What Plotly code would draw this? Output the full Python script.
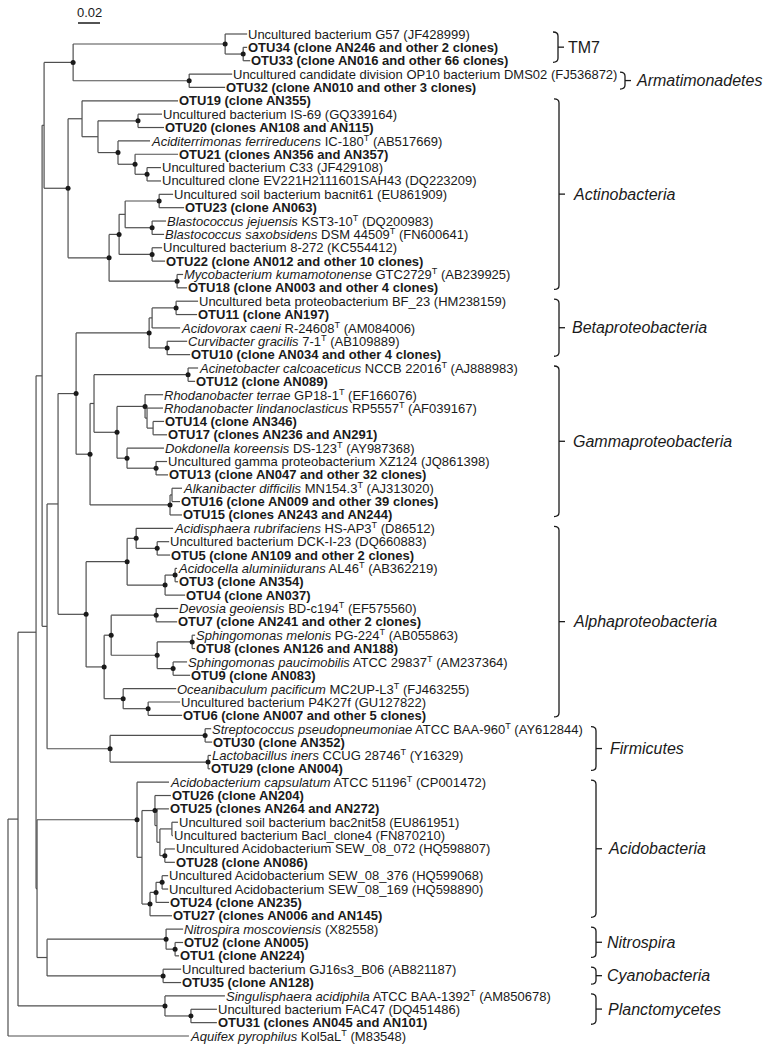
import plotly.graph_objects as go

# ---------------- DATA ----------------
leaf_labels = [
    "Uncultured bacterium G57 (JF428999)",
    "<b>OTU34 (clone AN246 and other 2 clones)</b>",
    "<b>OTU33 (clone AN016 and other 66 clones)</b>",
    "Uncultured candidate division OP10 bacterium DMS02 (FJ536872)",
    "<b>OTU32 (clone AN010 and other 3 clones)</b>",
    "<b>OTU19 (clone AN355)</b>",
    "Uncultured bacterium IS-69 (GQ339164)",
    "<b>OTU20 (clones AN108 and AN115)</b>",
    "<i>Aciditerrimonas ferrireducens</i> IC-180<sup>T</sup> (AB517669)",
    "<b>OTU21 (clones AN356 and AN357)</b>",
    "Uncultured bacterium C33 (JF429108)",
    "Uncultured clone EV221H2111601SAH43 (DQ223209)",
    "Uncultured soil bacterium bacnit61 (EU861909)",
    "<b>OTU23 (clone AN063)</b>",
    "<i>Blastococcus jejuensis</i> KST3-10<sup>T</sup> (DQ200983)",
    "<i>Blastococcus saxobsidens</i> DSM 44509<sup>T</sup> (FN600641)",
    "Uncultured bacterium 8-272 (KC554412)",
    "<b>OTU22 (clone AN012 and other 10 clones)</b>",
    "<i>Mycobacterium kumamotonense</i> GTC2729<sup>T</sup> (AB239925)",
    "<b>OTU18 (clone AN003 and other 4 clones)</b>",
    "Uncultured beta proteobacterium BF_23 (HM238159)",
    "<b>OTU11 (clone AN197)</b>",
    "<i>Acidovorax caeni</i> R-24608<sup>T</sup> (AM084006)",
    "<i>Curvibacter gracilis</i> 7-1<sup>T</sup> (AB109889)",
    "<b>OTU10 (clone AN034 and other 4 clones)</b>",
    "<i>Acinetobacter calcoaceticus</i> NCCB 22016<sup>T</sup> (AJ888983)",
    "<b>OTU12 (clone AN089)</b>",
    "<i>Rhodanobacter terrae</i> GP18-1<sup>T</sup> (EF166076)",
    "<i>Rhodanobacter lindanoclasticus</i> RP5557<sup>T</sup> (AF039167)",
    "<b>OTU14 (clone AN346)</b>",
    "<b>OTU17 (clones AN236 and AN291)</b>",
    "<i>Dokdonella koreensis</i> DS-123<sup>T</sup> (AY987368)",
    "Uncultured gamma proteobacterium XZ124 (JQ861398)",
    "<b>OTU13 (clone AN047 and other 32 clones)</b>",
    "<i>Alkanibacter difficilis</i> MN154.3<sup>T</sup> (AJ313020)",
    "<b>OTU16 (clone AN009 and other 39 clones)</b>",
    "<b>OTU15 (clones AN243 and AN244)</b>",
    "<i>Acidisphaera rubrifaciens</i> HS-AP3<sup>T</sup> (D86512)",
    "Uncultured bacterium DCK-I-23 (DQ660883)",
    "<b>OTU5 (clone AN109 and other 2 clones)</b>",
    "<i>Acidocella aluminiidurans</i> AL46<sup>T</sup> (AB362219)",
    "<b>OTU3 (clone AN354)</b>",
    "<b>OTU4 (clone AN037)</b>",
    "<i>Devosia geoiensis</i> BD-c194<sup>T</sup> (EF575560)",
    "<b>OTU7 (clone AN241 and other 2 clones)</b>",
    "<i>Sphingomonas melonis</i> PG-224<sup>T</sup> (AB055863)",
    "<b>OTU8 (clones AN126 and AN188)</b>",
    "<i>Sphingomonas paucimobilis</i> ATCC 29837<sup>T</sup> (AM237364)",
    "<b>OTU9 (clone AN083)</b>",
    "<i>Oceanibaculum pacificum</i> MC2UP-L3<sup>T</sup> (FJ463255)",
    "Uncultured bacterium P4K27f (GU127822)",
    "<b>OTU6 (clone AN007 and other 5 clones)</b>",
    "<i>Streptococcus pseudopneumoniae</i> ATCC BAA-960<sup>T</sup> (AY612844)",
    "<b>OTU30 (clone AN352)</b>",
    "<i>Lactobacillus iners</i> CCUG 28746<sup>T</sup> (Y16329)",
    "<b>OTU29 (clone AN004)</b>",
    "<i>Acidobacterium capsulatum</i> ATCC 51196<sup>T</sup> (CP001472)",
    "<b>OTU26 (clone AN204)</b>",
    "<b>OTU25 (clones AN264 and AN272)</b>",
    "Uncultured soil bacterium bac2nit58 (EU861951)",
    "Uncultured bacterium Bacl_clone4 (FN870210)",
    "Uncultured Acidobacterium SEW_08_072 (HQ598807)",
    "<b>OTU28 (clone AN086)</b>",
    "Uncultured Acidobacterium SEW_08_376 (HQ599068)",
    "Uncultured Acidobacterium SEW_08_169 (HQ598890)",
    "<b>OTU24 (clone AN235)</b>",
    "<b>OTU27 (clones AN006 and AN145)</b>",
    "<i>Nitrospira moscoviensis</i> (X82558)",
    "<b>OTU2 (clone AN005)</b>",
    "<b>OTU1 (clone AN224)</b>",
    "Uncultured bacterium GJ16s3_B06 (AB821187)",
    "<b>OTU35 (clone AN128)</b>",
    "<i>Singulisphaera acidiphila</i> ATCC BAA-1392<sup>T</sup> (AM850678)",
    "Uncultured bacterium FAC47 (DQ451486)",
    "<b>OTU31 (clones AN045 and AN101)</b>",
    "<i>Aquifex pyrophilus</i> Kol5aL<sup>T</sup> (M83548)",
]


def N(length, dot, *children):
    return {"len": length, "dot": dot, "children": list(children)}


def L(idx, length):
    return {"len": length, "leaf": idx}


# branch lengths (substitutions per site); dot = supported node
tree = N(0.0, False,
    N(0.0091, False,
        N(0.0164, False,
            N(0.0055, False,
                N(0.0018, False,
                    N(0.0264, True,
                        N(0.1382, True,
                            L(0, 0.0200),
                            N(0.0164, True, L(1, 0.0036), L(2, 0.0064))),
                        N(0.1055, True, L(3, 0.0391), L(4, 0.0327))),
                    N(0.0218, True,
                        N(0.0127, False,
                            L(5, 0.0873),
                            N(0.0145, False,
                                N(0.0364, True, L(6, 0.0218), L(7, 0.0236)),
                                N(0.0182, True,
                                    L(8, 0.0291),
                                    N(0.0155, True,
                                        L(9, 0.0391),
                                        N(0.0109, True, L(10, 0.0127), L(11, 0.0127)))))),
                        N(0.0373, True,
                            N(0.0091, True,
                                N(0.0055, False,
                                    N(0.0309, True, L(12, 0.0127), L(13, 0.0227)),
                                    N(0.0245, True, L(14, 0.0127), L(15, 0.0109))),
                                N(0.0300, True, L(16, 0.0091), L(17, 0.0118))),
                            N(0.0618, True, L(18, 0.0055), L(19, 0.0091))))),
                N(0.0045, False,
                    N(0.0100, False,
                        N(0.0164, True,
                            N(0.0664, True,
                                N(0.0027, False,
                                    N(0.0218, True, L(20, 0.0200), L(21, 0.0191)),
                                    L(22, 0.0255)),
                                N(0.0164, True, L(23, 0.0182), L(24, 0.0209))),
                            N(0.0127, True,
                                N(0.0036, False,
                                    N(0.0855, True, L(25, 0.0091), L(26, 0.0064)),
                                    N(0.0209, True,
                                        N(0.0255, True,
                                            L(27, 0.0164),
                                            N(0.0018, False,
                                                L(28, 0.0145),
                                                N(0.0055, False, L(29, 0.0100), L(30, 0.0127)))),
                                        N(0.0091, True,
                                            L(31, 0.0336),
                                            N(0.0264, True, L(32, 0.0100), L(33, 0.0109))))),
                                N(0.0727, True,
                                    N(0.0018, False, L(34, 0.0091), L(35, 0.0073)),
                                    L(36, 0.0109)))),
                        N(0.0255, True,
                            N(0.0373, True,
                                N(0.0082, True,
                                    L(37, 0.0336),
                                    N(0.0191, True, L(38, 0.0109), L(39, 0.0118))),
                                N(0.0345, True,
                                    N(0.0091, True, L(40, 0.0018), L(41, 0.0027)),
                                    L(42, 0.0182))),
                            N(0.0164, True,
                                N(0.0064, True,
                                    N(0.0409, True, L(43, 0.0200), L(44, 0.0191)),
                                    N(0.0418, True,
                                        N(0.0318, True, L(45, 0.0027), L(46, 0.0027)),
                                        N(0.0145, True, L(47, 0.0127), L(48, 0.0155)))),
                                N(0.0173, True,
                                    L(49, 0.0482),
                                    N(0.0227, True, L(50, 0.0291), L(51, 0.0309)))))),
                    N(0.0573, True,
                        N(0.0864, True, L(52, 0.0055), L(53, 0.0064)),
                        N(0.0891, True, L(54, 0.0027), L(55, 0.0018))))),
            N(0.0009, False,
                N(0.0909, True,
                    L(56, 0.0291),
                    N(0.0045, False,
                        N(0.0118, True,
                            L(57, 0.0145),
                            N(0.0018, False,
                                L(58, 0.0109),
                                N(0.0027, False,
                                    N(0.0109, False, L(59, 0.0055), L(60, 0.0009)),
                                    N(0.0045, True, L(61, 0.0091), L(62, 0.0091))))),
                        N(0.0073, True,
                            N(0.0055, True,
                                N(0.0055, True, L(63, 0.0055), L(64, 0.0055)),
                                L(65, 0.0118)),
                            L(66, 0.0200)))),
                N(0.0091, False,
                    N(0.1082, True,
                        L(67, 0.0155),
                        N(0.0082, True, L(68, 0.0073), L(69, 0.0036))),
                    N(0.1055, True, L(70, 0.0164), L(71, 0.0164))))),
        N(0.1336, True,
            L(72, 0.0545),
            N(0.0236, True, L(73, 0.0236), L(74, 0.0236)))),
    L(75, 0.1645))

scale_value = 0.02
scale_label = "0.02"

group_names = ["TM7", "<i>Armatimonadetes</i>", "<i>Actinobacteria</i>",
               "<i>Betaproteobacteria</i>", "<i>Gammaproteobacteria</i>",
               "<i>Alphaproteobacteria</i>", "<i>Firmicutes</i>",
               "<i>Acidobacteria</i>", "<i>Nitrospira</i>",
               "<i>Cyanobacteria</i>", "<i>Planctomycetes</i>"]
group_first = [0, 3, 5, 20, 25, 37, 52, 56, 67, 70, 72]
group_last = [2, 4, 19, 24, 36, 51, 55, 66, 69, 71, 74]

# ---------------- LAYOUT / STYLE ----------------
W, H = 771, 1053
PX_PER_UNIT = 1100.0
X0_PX = 8.0
Y0_PX = 34.0
ROW_PX = 13.36
bracket_px = [558, 625, 559, 559, 559, 559, 596, 596, 596, 596, 596]
label_gap_px = [8, 9, 12, 11, 12, 12, 12, 10, 9, 9, 10]

LINE_COLOR = "#4f4f4f"
FONT = "Arial, Liberation Sans, Helvetica, sans-serif"


def px2x(px):
    return (px - X0_PX) / PX_PER_UNIT


def dx(px):
    return px / PX_PER_UNIT


def dy(px):
    return px / ROW_PX


x_range = [px2x(0), px2x(W)]
y_range = [(H - Y0_PX) / ROW_PX, -Y0_PX / ROW_PX]

seg_x, seg_y = [], []
dot_x, dot_y = [], []
tips = {}


def lay(node, x0):
    x = x0 + node["len"]
    if "leaf" in node:
        y = float(node["leaf"])
        tips[node["leaf"]] = x
    else:
        ys = [lay(c, x) for c in node["children"]]
        y = (ys[0] + ys[-1]) / 2.0
        seg_x.extend([x, x, None])
        seg_y.extend([ys[0], ys[-1], None])
        if node["dot"]:
            dot_x.append(x)
            dot_y.append(y)
    if node["len"] > 0:
        seg_x.extend([x0, x, None])
        seg_y.extend([y, y, None])
    return y


lay(tree, 0.0)

fig = go.Figure()
fig.add_trace(go.Scatter(x=seg_x, y=seg_y, mode="lines",
                         line=dict(color=LINE_COLOR, width=1.2),
                         hoverinfo="skip", showlegend=False))
fig.add_trace(go.Scatter(x=dot_x, y=dot_y, mode="markers",
                         marker=dict(color="#1a1a1a", size=5),
                         hoverinfo="skip", showlegend=False))

annotations = []
for i, lab in enumerate(leaf_labels):
    annotations.append(dict(x=tips[i], y=i, text=lab, showarrow=False,
                            xanchor="left", yanchor="middle", xshift=-1,
                            font=dict(family=FONT, size=13, color="#1a1a1a")))

# scale bar
sb_x0 = px2x(78)
sb_y = dy(23 - Y0_PX)
fig.add_trace(go.Scatter(x=[sb_x0, sb_x0 + scale_value], y=[sb_y, sb_y],
                         mode="lines", line=dict(color="#1a1a1a", width=1.5),
                         hoverinfo="skip", showlegend=False))
annotations.append(dict(x=sb_x0 + scale_value / 2, y=sb_y, text=scale_label,
                        showarrow=False, xanchor="center", yanchor="bottom",
                        yshift=1, font=dict(family=FONT, size=13, color="#1a1a1a")))

# group brackets
shapes = []
for name, f, l, bpx, gap in zip(group_names, group_first, group_last,
                                bracket_px, label_gap_px):
    top = f - 0.15
    bot = l + 0.12
    mid = (top + bot) / 2
    bx = px2x(bpx)
    hk = dx(5)
    cv = dy(4)
    tk = dx(6)
    path = (f"M {bx - hk},{top} Q {bx},{top} {bx},{top + cv} "
            f"L {bx},{bot - cv} Q {bx},{bot} {bx - hk},{bot}")
    shapes.append(dict(type="path", path=path, xref="x", yref="y",
                       line=dict(color="#1a1a1a", width=1.3)))
    shapes.append(dict(type="line", x0=bx, x1=bx + tk, y0=mid, y1=mid,
                       xref="x", yref="y", line=dict(color="#1a1a1a", width=1.3)))
    annotations.append(dict(x=bx + dx(gap), y=mid, text=name, showarrow=False,
                            xanchor="left", yanchor="middle",
                            font=dict(family=FONT, size=16, color="#1a1a1a")))

fig.update_layout(
    width=W, height=H, autosize=False,
    margin=dict(l=0, r=0, t=0, b=0),
    paper_bgcolor="white", plot_bgcolor="white",
    xaxis=dict(range=x_range, visible=False, fixedrange=True),
    yaxis=dict(range=y_range, visible=False, fixedrange=True),
    annotations=annotations, shapes=shapes, showlegend=False,
)

fig.write_html("out.html",
               config={"displayModeBar": False, "staticPlot": True},
               post_script="document.body.style.margin='0px';"
                           "document.body.style.overflow='hidden';")
